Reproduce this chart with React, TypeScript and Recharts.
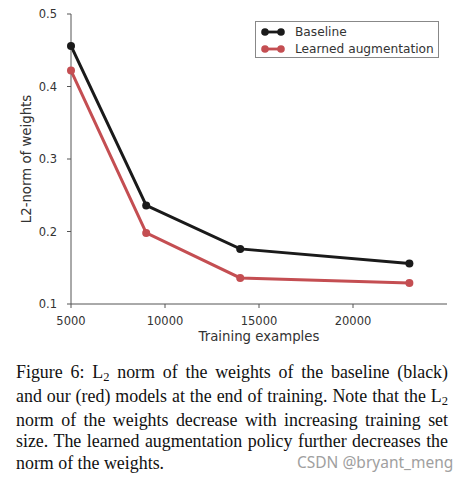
import React from 'react';
import { LineChart, Line, XAxis, YAxis } from 'recharts';

const trainingExamples = [5000, 9000, 14000, 23000];
const baseline = [0.456, 0.236, 0.176, 0.156];
const learned = [0.422, 0.198, 0.136, 0.129];
const xTicks = [5000, 10000, 15000, 20000];
const yTicks = [0.1, 0.2, 0.3, 0.4, 0.5];

const series = [
  { key: 'baseline', label: 'Baseline', color: '#1a1a1a' },
  { key: 'learned', label: 'Learned augmentation', color: '#c44e52' },
];

const data = trainingExamples.map((x, i) => ({ x, baseline: baseline[i], learned: learned[i] }));

const font = '"DejaVu Sans", sans-serif';
const tickStyle = { fill: '#333', fontSize: 11.5, fontFamily: font };
const labelStyle = { fill: '#333', fontSize: 13.3, fontFamily: font };

const Sub = () => <span style={{ fontSize: '0.7em', position: 'relative', top: '0.25em' }}>2</span>;

// caption lines as in the paper (last one not justified)
const captionLines = [
  <>Figure 6: L<Sub /> norm of the weights of the baseline (black)</>,
  <>and our (red) models at the end of training. Note that the L<Sub /></>,
  <>norm of the weights decrease with increasing training set</>,
  <>size. The learned augmentation policy further decreases the</>,
  <>norm of the weights.</>,
];

function LegendBox() {
  return (
    <div style={{ position: 'absolute', left: 255, top: 21, width: 184, height: 37, border: '1px solid #888', background: '#fff', fontFamily: font, fontSize: 12.2, color: '#333', boxSizing: 'border-box', padding: '1px 0 0 4px' }}>
      {series.map(s => (
        <div key={s.key} style={{ display: 'flex', alignItems: 'center', height: 17 }}>
          <svg width={26} height={10} style={{ marginRight: 9 }}>
            <line x1={5} y1={5} x2={21} y2={5} stroke={s.color} strokeWidth={2.8} />
            <circle cx={5} cy={5} r={3.8} fill={s.color} />
            <circle cx={21} cy={5} r={3.8} fill={s.color} />
          </svg>
          <span>{s.label}</span>
        </div>
      ))}
    </div>
  );
}

export default function App() {
  return (
    <div style={{ position: 'absolute', left: 0, top: 0, width: 469, height: 480, background: '#fff' }}>
      <LineChart width={469} height={350} data={data} margin={{ top: 14, right: 22, bottom: 16, left: 0 }}>
        <XAxis
          dataKey="x"
          type="number"
          domain={[5000, 25000]}
          ticks={xTicks}
          tick={tickStyle}
          tickSize={4}
          tickMargin={9}
          stroke="#555"
          height={30}
          label={{ value: 'Training examples', position: 'insideBottom', offset: -7, style: labelStyle }}
        />
        <YAxis
          type="number"
          domain={[0.1, 0.5]}
          ticks={yTicks}
          tick={tickStyle}
          tickSize={4}
          tickMargin={10}
          stroke="#555"
          width={71}
          tickFormatter={v => String(v)}
          label={{ value: 'L2-norm of weights', angle: -90, position: 'insideLeft', offset: 26, style: { ...labelStyle, textAnchor: 'middle' } }}
        />
        {series.map(s => (
          <Line
            key={s.key}
            dataKey={s.key}
            name={s.label}
            stroke={s.color}
            strokeWidth={3}
            dot={{ r: 4, fill: s.color, stroke: s.color, strokeWidth: 0 }}
            activeDot={false}
            isAnimationActive={false}
          />
        ))}
      </LineChart>
      <LegendBox />
      <div style={{ position: 'absolute', left: 16, top: 362, width: 432, fontFamily: '"Liberation Serif", serif', fontSize: 17.9, lineHeight: '21.75px', color: '#111' }}>
        {captionLines.map((l, i) => (
          <div key={i} style={{ textAlign: 'justify', textAlignLast: i < captionLines.length - 1 ? 'justify' : 'left' }}>{l}</div>
        ))}
      </div>
      <div style={{ position: 'absolute', left: 297, top: 451, fontFamily: '"Noto Sans", sans-serif', fontSize: 15.5, color: '#a0a0a0' }}>
        CSDN @bryant_meng
      </div>
    </div>
  );
}
